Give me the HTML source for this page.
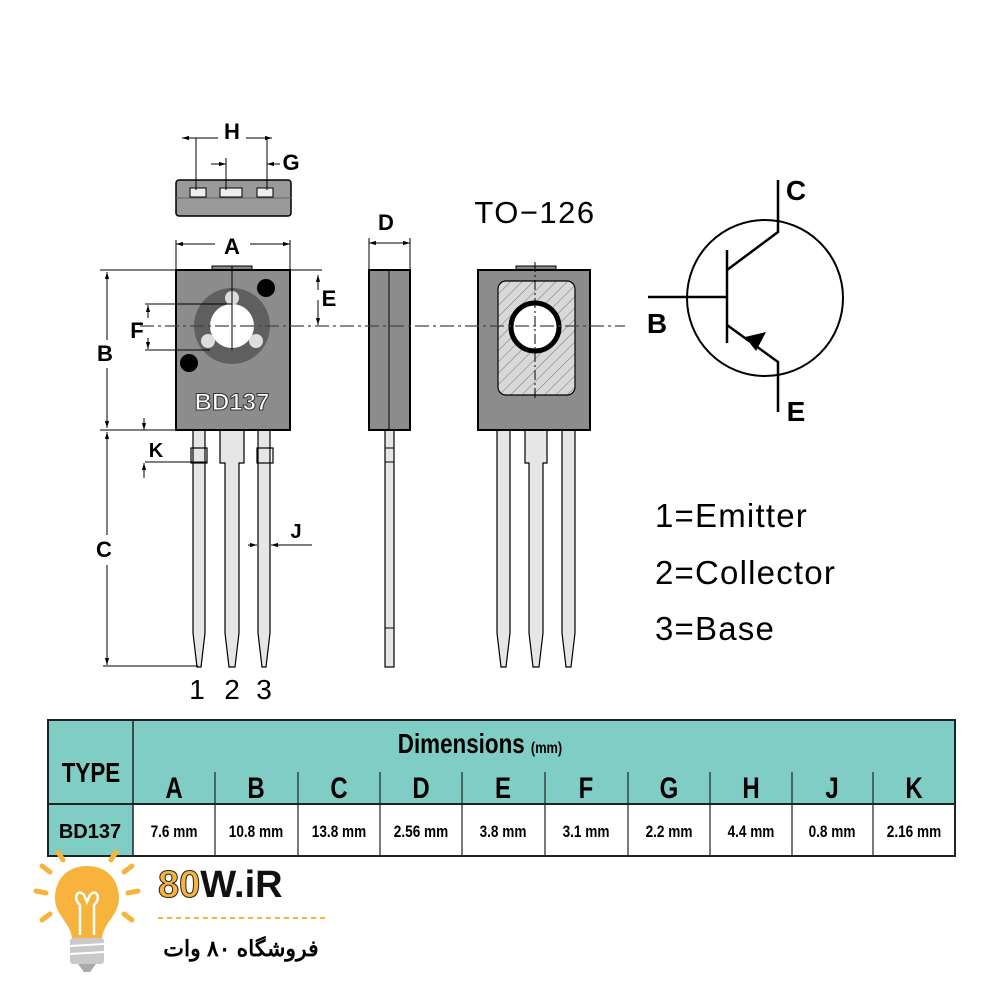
<!DOCTYPE html>
<html><head><meta charset="utf-8"><style>
html,body{margin:0;padding:0;background:#fff}
svg{display:block}
text{font-family:"Liberation Sans",sans-serif}
</style></head><body>
<svg width="1000" height="1000" viewBox="0 0 1000 1000" xmlns="http://www.w3.org/2000/svg">
<defs>
<marker id="ar" viewBox="0 0 10 10" refX="10" refY="5" markerWidth="7" markerHeight="7" orient="auto-start-reverse"><path d="M0,2 L10,5 L0,8 z" fill="#000"/></marker>
<pattern id="hatch" width="8" height="8" patternUnits="userSpaceOnUse" patternTransform="rotate(45)"><rect width="8" height="8" fill="#d8d8d8"/><line x1="0" y1="0" x2="0" y2="8" stroke="#777" stroke-width="1"/></pattern>
</defs>

<!-- Top view -->
<rect x="176" y="180" width="115" height="36" rx="3" fill="#9a9a9a" stroke="#000" stroke-width="1.5"/>
<line x1="176" y1="198" x2="291" y2="198" stroke="#666" stroke-width="1"/>
<rect x="190" y="188" width="16" height="9" fill="#eee" stroke="#000"/>
<rect x="220" y="188" width="22" height="9" fill="#eee" stroke="#000"/>
<rect x="257" y="188" width="16" height="9" fill="#eee" stroke="#000"/>
<line x1="196" y1="138" x2="196" y2="190" stroke="#000"/>
<line x1="267" y1="138" x2="267" y2="190" stroke="#000"/>
<line x1="226" y1="158" x2="226" y2="190" stroke="#000"/>
<line x1="182" y1="138" x2="218" y2="138" stroke="#000" marker-start="url(#ar)"/>
<line x1="246" y1="138" x2="272" y2="138" stroke="#000" marker-end="url(#ar)"/>
<text x="232" y="139" font-size="22" font-weight="bold" text-anchor="middle">H</text>
<line x1="211" y1="164" x2="226" y2="164" stroke="#000" marker-end="url(#ar)"/>
<line x1="280" y1="164" x2="267" y2="164" stroke="#000" marker-end="url(#ar)"/>
<text x="291" y="170" font-size="22" font-weight="bold" text-anchor="middle">G</text>

<!-- A dim -->
<line x1="176" y1="240" x2="176" y2="270" stroke="#000"/>
<line x1="290" y1="240" x2="290" y2="270" stroke="#000"/>
<line x1="176" y1="244" x2="215" y2="244" stroke="#000" marker-start="url(#ar)"/>
<line x1="250" y1="244" x2="290" y2="244" stroke="#000" marker-end="url(#ar)"/>
<text x="232" y="254" font-size="22" font-weight="bold" text-anchor="middle">A</text>

<!-- Front pins -->
<g stroke="#000" stroke-width="1.2" fill="#e6e6e6">
<path d="M193,430 V633 L197,667 H201 L205,633 V430 Z"/>
<rect x="191" y="448" width="16" height="15" fill="none"/>
<path d="M220,430 V463 H225 V633 L229,667 H235 L239,633 V463 H244 V430 Z"/>
<path d="M258,430 V633 L262,667 H266 L270,633 V430 Z"/>
<rect x="257" y="448" width="16" height="15" fill="none"/>
</g>
<!-- Front body -->
<rect x="212" y="266" width="40" height="5" fill="#888" stroke="#000"/>
<rect x="176" y="270" width="114" height="160" fill="#8c8c8c" stroke="#000" stroke-width="2"/>
<circle cx="232" cy="326" r="38" fill="#5f5f5f"/>
<circle cx="232" cy="326" r="22" fill="#fff"/>
<circle cx="232" cy="298" r="7" fill="#ddd"/>
<circle cx="208" cy="341" r="7" fill="#ddd"/>
<circle cx="256" cy="341" r="7" fill="#ddd"/>
<circle cx="266" cy="288" r="9" fill="#000"/>
<circle cx="189" cy="363" r="9" fill="#000"/>
<line x1="232" y1="266" x2="232" y2="350" stroke="#000"/>
<text x="232" y="410" font-size="24" font-weight="bold" text-anchor="middle" fill="#fff" stroke="#333" stroke-width="1">BD137</text>

<!-- B, E, F, K, C dims -->
<line x1="100" y1="270" x2="322" y2="270" stroke="#000"/>
<line x1="107" y1="272" x2="107" y2="340" stroke="#000" marker-start="url(#ar)"/>
<line x1="107" y1="368" x2="107" y2="428" stroke="#000" marker-end="url(#ar)"/>
<text x="105" y="361" font-size="22" font-weight="bold" text-anchor="middle">B</text>
<line x1="100" y1="430" x2="176" y2="430" stroke="#000"/>
<line x1="318" y1="275" x2="318" y2="290" stroke="#000" marker-start="url(#ar)"/>
<line x1="318" y1="300" x2="318" y2="325" stroke="#000" marker-end="url(#ar)"/>
<text x="329" y="306" font-size="22" font-weight="bold" text-anchor="middle">E</text>
<line x1="145" y1="304" x2="232" y2="304" stroke="#000"/>
<line x1="145" y1="350" x2="210" y2="350" stroke="#000"/>
<line x1="148" y1="318" x2="148" y2="305" stroke="#000" marker-end="url(#ar)"/>
<line x1="148" y1="338" x2="148" y2="349" stroke="#000" marker-end="url(#ar)"/>
<text x="137" y="338" font-size="22" font-weight="bold" text-anchor="middle">F</text>
<line x1="145" y1="462" x2="207" y2="462" stroke="#000"/>
<line x1="144" y1="418" x2="144" y2="430" stroke="#000" marker-end="url(#ar)"/>
<line x1="144" y1="478" x2="144" y2="463" stroke="#000" marker-end="url(#ar)"/>
<text x="156" y="457" font-size="20" font-weight="bold" text-anchor="middle">K</text>
<line x1="107" y1="432" x2="107" y2="535" stroke="#000" marker-start="url(#ar)"/>
<line x1="107" y1="565" x2="107" y2="665" stroke="#000" marker-end="url(#ar)"/>
<text x="104" y="557" font-size="22" font-weight="bold" text-anchor="middle">C</text>
<line x1="103" y1="666" x2="198" y2="666" stroke="#000"/>
<line x1="248" y1="545" x2="257" y2="545" stroke="#000" marker-end="url(#ar)"/>
<line x1="312" y1="545" x2="271" y2="545" stroke="#000" marker-end="url(#ar)"/>
<text x="296" y="538" font-size="20" font-weight="bold" text-anchor="middle">J</text>
<text x="197" y="699" font-size="28" text-anchor="middle">1</text>
<text x="232" y="699" font-size="28" text-anchor="middle">2</text>
<text x="264" y="699" font-size="28" text-anchor="middle">3</text>

<!-- Side view -->
<rect x="385" y="430" width="9" height="237" fill="#e6e6e6" stroke="#000" stroke-width="1.2"/>
<line x1="385" y1="448" x2="394" y2="448" stroke="#000"/><line x1="385" y1="462" x2="394" y2="462" stroke="#000"/><line x1="385" y1="628" x2="394" y2="628" stroke="#000"/>
<rect x="369" y="270" width="41" height="160" fill="#8c8c8c" stroke="#000" stroke-width="2"/>
<line x1="389" y1="270" x2="389" y2="430" stroke="#000"/>
<line x1="369" y1="238" x2="369" y2="270" stroke="#000"/>
<line x1="410" y1="238" x2="410" y2="270" stroke="#000"/>
<line x1="389" y1="243" x2="369" y2="243" stroke="#000" marker-end="url(#ar)"/>
<line x1="389" y1="243" x2="410" y2="243" stroke="#000" marker-end="url(#ar)"/>
<text x="386" y="230" font-size="22" font-weight="bold" text-anchor="middle">D</text>

<!-- Back view -->
<text x="535" y="223" font-size="31" text-anchor="middle" letter-spacing="1.5">TO−126</text>
<g stroke="#000" stroke-width="1.2" fill="#e6e6e6">
<path d="M497,430 V633 L501,667 H506 L510,633 V430 Z"/>
<path d="M525,430 V463 H529 V633 L533,667 H539 L543,633 V463 H547 V430 Z"/>
<path d="M562,430 V633 L566,667 H571 L575,633 V430 Z"/>
</g>
<rect x="516" y="266" width="40" height="5" fill="#888" stroke="#000"/>
<rect x="478" y="270" width="112" height="160" fill="#8c8c8c" stroke="#000" stroke-width="2"/>
<rect x="498" y="281" width="77" height="114" rx="8" fill="url(#hatch)" stroke="#000" stroke-width="1.2"/>
<circle cx="535" cy="327" r="24" fill="#fff" stroke="#000" stroke-width="5"/>
<line x1="535" y1="262" x2="535" y2="400" stroke="#000" stroke-dasharray="10,3,2,3"/>
<line x1="140" y1="326" x2="625" y2="326" stroke="#444" stroke-width="1.3" stroke-dasharray="14,4,3,4"/>

<!-- Symbol -->
<circle cx="765" cy="298" r="78" fill="none" stroke="#000" stroke-width="2"/>
<g stroke="#000" stroke-width="2.5" fill="none">
<line x1="648" y1="297" x2="727" y2="297"/>
<line x1="727" y1="250" x2="727" y2="343"/>
<polyline points="727,270 778,232 778,180"/>
<polyline points="727,325 778,362 778,412"/>
</g>
<path d="M745,337 L766,332 L756,351 Z" fill="#000"/>
<text x="796" y="200" font-size="28" font-weight="bold" text-anchor="middle">C</text>
<text x="796" y="421" font-size="28" font-weight="bold" text-anchor="middle">E</text>
<text x="657" y="333" font-size="28" font-weight="bold" text-anchor="middle">B</text>

<g font-size="33" letter-spacing="1.2">
<text x="655" y="527">1=Emitter</text>
<text x="655" y="584">2=Collector</text>
<text x="655" y="640">3=Base</text>
</g>

<!-- Table -->
<rect x="48" y="720" width="907" height="84" fill="#7fcdc4"/>
<rect x="48" y="804" width="85" height="52" fill="#7fcdc4"/>
<rect x="133" y="804" width="822" height="52" fill="#fff"/>
<rect x="48" y="720" width="907" height="136" fill="none" stroke="#222" stroke-width="2"/>
<line x1="133" y1="720" x2="133" y2="856" stroke="#222" stroke-width="1.5"/>
<line x1="48" y1="804" x2="955" y2="804" stroke="#222" stroke-width="2"/>
<g stroke="#222" stroke-width="1.2">
<line x1="215" y1="772" x2="215" y2="856"/><line x1="298" y1="772" x2="298" y2="856"/><line x1="380" y1="772" x2="380" y2="856"/><line x1="462" y1="772" x2="462" y2="856"/><line x1="545" y1="772" x2="545" y2="856"/><line x1="628" y1="772" x2="628" y2="856"/><line x1="710" y1="772" x2="710" y2="856"/><line x1="792" y1="772" x2="792" y2="856"/><line x1="873" y1="772" x2="873" y2="856"/>
</g>
<text x="91" y="782" font-size="28" font-weight="bold" text-anchor="middle" transform="translate(91,0) scale(0.8,1) translate(-91,0)">TYPE</text>
<text x="480" y="753" font-size="28" font-weight="bold" text-anchor="middle" transform="translate(480,0) scale(0.8,1) translate(-480,0)">Dimensions <tspan font-size="16">(mm)</tspan></text>
<g font-size="30" font-weight="bold" text-anchor="middle">
<text x="174" y="798" transform="translate(174,0) scale(0.8,1) translate(-174,0)">A</text>
<text x="256" y="798" transform="translate(256,0) scale(0.8,1) translate(-256,0)">B</text>
<text x="339" y="798" transform="translate(339,0) scale(0.8,1) translate(-339,0)">C</text>
<text x="421" y="798" transform="translate(421,0) scale(0.8,1) translate(-421,0)">D</text>
<text x="503" y="798" transform="translate(503,0) scale(0.8,1) translate(-503,0)">E</text>
<text x="586" y="798" transform="translate(586,0) scale(0.8,1) translate(-586,0)">F</text>
<text x="669" y="798" transform="translate(669,0) scale(0.8,1) translate(-669,0)">G</text>
<text x="751" y="798" transform="translate(751,0) scale(0.8,1) translate(-751,0)">H</text>
<text x="832" y="798" transform="translate(832,0) scale(0.8,1) translate(-832,0)">J</text>
<text x="914" y="798" transform="translate(914,0) scale(0.8,1) translate(-914,0)">K</text>
</g>
<text x="90" y="838" font-size="20" font-weight="bold" text-anchor="middle">BD137</text>
<g font-size="17" font-weight="bold" text-anchor="middle">
<text x="174" y="837" transform="translate(174,0) scale(0.8,1) translate(-174,0)">7.6 mm</text>
<text x="256" y="837" transform="translate(256,0) scale(0.8,1) translate(-256,0)">10.8 mm</text>
<text x="339" y="837" transform="translate(339,0) scale(0.8,1) translate(-339,0)">13.8 mm</text>
<text x="421" y="837" transform="translate(421,0) scale(0.8,1) translate(-421,0)">2.56 mm</text>
<text x="503" y="837" transform="translate(503,0) scale(0.8,1) translate(-503,0)">3.8 mm</text>
<text x="586" y="837" transform="translate(586,0) scale(0.8,1) translate(-586,0)">3.1 mm</text>
<text x="669" y="837" transform="translate(669,0) scale(0.8,1) translate(-669,0)">2.2 mm</text>
<text x="751" y="837" transform="translate(751,0) scale(0.8,1) translate(-751,0)">4.4 mm</text>
<text x="832" y="837" transform="translate(832,0) scale(0.8,1) translate(-832,0)">0.8 mm</text>
<text x="914" y="837" transform="translate(914,0) scale(0.8,1) translate(-914,0)">2.16 mm</text>
</g>

<!-- Logo -->
<g stroke="#f7b33b" stroke-width="5" stroke-linecap="round">
<line x1="46" y1="893" x2="36" y2="891"/><line x1="50" y1="872" x2="42" y2="866"/><line x1="63" y1="860" x2="58" y2="852"/><line x1="124" y1="872" x2="132" y2="866"/><line x1="128" y1="893" x2="138" y2="891"/><line x1="124" y1="914" x2="132" y2="920"/><line x1="50" y1="914" x2="42" y2="920"/><line x1="111" y1="860" x2="116" y2="852"/>
</g>
<path d="M87,866 C65,866 55,882 55,898 C55,915 70,922 72,938 H102 C104,922 119,915 119,898 C119,882 109,866 87,866 Z" fill="#f7b33b"/>
<path d="M80,935 V905 C72,898 78,888 84,895 L87,902 L90,895 C96,888 102,898 94,905 V935" fill="none" stroke="#fff" stroke-width="2.5"/>
<rect x="70" y="938" width="34" height="26" rx="3" fill="#c9c9c9"/>
<g stroke="#fff" stroke-width="2"><line x1="70" y1="946" x2="104" y2="944"/><line x1="70" y1="954" x2="104" y2="952"/></g>
<path d="M78,964 H96 L90,972 H84 Z" fill="#aaa"/>
<text x="158" y="897" font-size="38" font-weight="bold"><tspan fill="#f7b33b" stroke="#222" stroke-width="1">80</tspan><tspan fill="#111">W.iR</tspan></text>
<line x1="158" y1="918" x2="325" y2="918" stroke="#f7b33b" stroke-width="2" stroke-dasharray="5,4"/>
<text x="241" y="956" font-size="22" font-weight="bold" text-anchor="middle" font-family="'Liberation Sans','DejaVu Sans',sans-serif">فروشگاه ۸۰ وات</text>
</svg>
</body></html>
